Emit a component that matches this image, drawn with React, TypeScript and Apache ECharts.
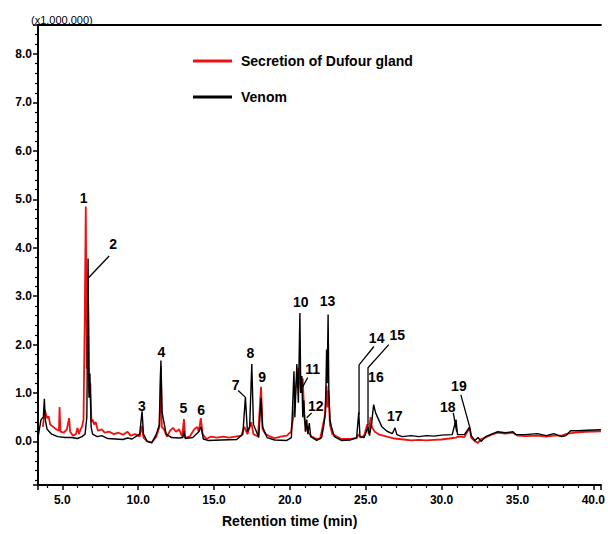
import React, { useEffect, useRef } from 'react';
import * as echarts from 'echarts';

// Retention time (min), abundance (x1,000,000)
const dufourTrace: [number, number][] = [
  [3.72, 0.3], [3.85, 0.65], [4.0, 0.48], [4.1, 0.52], [4.2, 0.35], [4.4, 0.3], [4.6, 0.25], [4.78, 0.22],
  [4.82, 0.71], [4.88, 0.2], [5.1, 0.18], [5.3, 0.25], [5.45, 0.48], [5.52, 0.2], [5.7, 0.12], [5.9, 0.15],
  [6.0, 0.28], [6.1, 0.15], [6.2, 0.25], [6.3, 0.3], [6.4, 0.45], [6.48, 2.5], [6.55, 4.85], [6.62, 1.5],
  [6.7, 3.0], [6.78, 1.0], [6.85, 1.2], [6.92, 0.4], [7.0, 0.45], [7.1, 0.35], [7.2, 0.4], [7.35, 0.22],
  [7.6, 0.25], [7.8, 0.18], [8.1, 0.2], [8.4, 0.15], [8.7, 0.18], [9.0, 0.14], [9.3, 0.2], [9.5, 0.12],
  [9.8, 0.15], [10.1, 0.1], [10.25, 0.32], [10.35, 0.08], [10.6, 0.0], [10.9, -0.02], [11.2, 0.1], [11.4, 0.3],
  [11.5, 1.55], [11.56, 0.3], [11.7, 0.25], [11.9, 0.1], [12.1, 0.22], [12.3, 0.28], [12.5, 0.2], [12.7, 0.25],
  [12.9, 0.1], [13.02, 0.46], [13.1, 0.08], [13.4, 0.1], [13.7, 0.25], [13.9, 0.3], [14.0, 0.2], [14.13, 0.48],
  [14.25, 0.15], [14.5, 0.05], [14.8, 0.1], [15.2, 0.08], [15.6, 0.1], [16.0, 0.08], [16.4, 0.1], [16.8, 0.12],
  [17.0, 0.3], [17.2, 0.15], [17.45, 0.4], [17.6, 0.15], [17.9, 0.1], [18.1, 1.13], [18.2, 0.25], [18.4, 0.15],
  [18.7, 0.1], [19.0, 0.07], [19.4, 0.1], [19.8, 0.12], [20.08, 0.2], [20.27, 0.6], [20.38, 1.1], [20.57, 1.52],
  [20.72, 1.0], [20.85, 1.3], [20.95, 0.5], [21.05, 0.3], [21.18, 0.2], [21.44, 0.1], [21.77, 0.05], [22.0, 0.06],
  [22.29, 0.5], [22.42, 1.15], [22.48, 0.7], [22.55, 1.05], [22.64, 0.35], [22.8, 0.15], [23.39, 0.05], [24.0, 0.05],
  [24.4, 0.07], [24.54, 0.15], [24.65, 0.08], [24.9, 0.12], [25.1, 0.35], [25.2, 0.15], [25.32, 0.5], [25.4, 0.3],
  [25.6, 0.2], [25.9, 0.14], [26.4, 0.1], [26.9, 0.06], [27.5, 0.04], [28.0, 0.02], [28.5, 0.03], [29.0, 0.02],
  [29.5, 0.03], [30.0, 0.04], [30.5, 0.06], [30.95, 0.08], [31.1, 0.1], [31.5, 0.09], [31.85, 0.28], [31.95, 0.08],
  [32.2, 0.0], [32.4, -0.03], [32.6, 0.05], [32.9, 0.08], [33.3, 0.14], [33.7, 0.18], [34.2, 0.16], [34.7, 0.18],
  [35.0, 0.12], [35.5, 0.11], [36.3, 0.12], [36.9, 0.1], [37.4, 0.12], [37.9, 0.12], [38.3, 0.16], [38.8, 0.18],
  [39.5, 0.2], [40.5, 0.21],
];

const venomTrace: [number, number][] = [
  [3.42, 0.12], [3.6, 0.45], [3.75, 0.5], [3.82, 0.88], [3.88, 0.45], [4.0, 0.25], [4.3, 0.15], [4.7, 0.1],
  [5.2, 0.08], [5.6, 0.08], [6.0, 0.06], [6.3, 0.1], [6.5, 0.15], [6.62, 0.5], [6.7, 3.78], [6.76, 0.9],
  [6.82, 1.4], [6.9, 0.3], [7.0, 0.15], [7.3, 0.1], [7.6, 0.12], [8.0, 0.06], [8.5, 0.05], [9.0, 0.04],
  [9.3, 0.07], [9.6, 0.05], [10.1, 0.15], [10.26, 0.62], [10.35, 0.15], [10.6, 0.0], [10.9, -0.03], [11.2, 0.15],
  [11.4, 0.35], [11.5, 1.67], [11.58, 0.6], [11.7, 0.4], [11.85, 0.15], [12.2, 0.08], [12.7, 0.07], [12.95, 0.08],
  [13.02, 0.22], [13.1, 0.06], [13.6, 0.08], [14.0, 0.2], [14.15, 0.3], [14.3, 0.05], [14.6, 0.02], [15.5, 0.03],
  [16.5, 0.04], [16.9, 0.15], [17.07, 0.92], [17.2, 0.2], [17.35, 0.3], [17.49, 1.6], [17.6, 0.35], [17.8, 0.2],
  [17.95, 0.08], [18.1, 0.9], [18.2, 0.3], [18.5, 0.08], [19.0, 0.03], [19.8, 0.02], [20.1, 0.08], [20.27, 1.45],
  [20.33, 0.5], [20.46, 1.6], [20.56, 0.8], [20.66, 2.65], [20.72, 1.0], [20.79, 1.35], [20.85, 0.5], [20.92, 0.85],
  [21.02, 0.2], [21.11, 0.45], [21.18, 0.15], [21.28, 0.38], [21.37, 0.1], [21.77, 0.02], [22.09, 0.08], [22.22, 0.3],
  [22.35, 0.6], [22.42, 1.9], [22.46, 1.2], [22.52, 2.62], [22.57, 1.0], [22.64, 0.45], [22.74, 0.3], [22.93, 0.1],
  [23.39, 0.02], [24.0, 0.03], [24.4, 0.08], [24.54, 0.6], [24.62, 0.1], [24.9, 0.08], [25.15, 0.3], [25.25, 0.12],
  [25.4, 0.4], [25.52, 0.76], [25.65, 0.59], [25.85, 0.45], [26.05, 0.31], [26.4, 0.21], [26.75, 0.16], [26.93, 0.28],
  [27.05, 0.14], [27.4, 0.1], [28.0, 0.12], [28.5, 0.1], [29.0, 0.12], [29.5, 0.11], [30.0, 0.13], [30.7, 0.14],
  [30.95, 0.45], [31.05, 0.14], [31.5, 0.14], [31.85, 0.3], [31.95, 0.12], [32.2, 0.02], [32.4, 0.08], [32.6, 0.0],
  [32.9, 0.1], [33.3, 0.15], [33.7, 0.2], [34.2, 0.18], [34.7, 0.2], [34.9, 0.14], [35.5, 0.14], [36.3, 0.16],
  [36.9, 0.12], [37.4, 0.16], [37.9, 0.1], [38.2, 0.12], [38.5, 0.22], [39.0, 0.22], [39.6, 0.23], [40.5, 0.24],
];

const seriesNames = ['Secretion of Dufour gland', 'Venom'];

const peakNames = ['1', '2', '3', '4', '5', '6', '7', '8', '9', '10', '11', '12', '13', '14', '15', '16', '17', '18', '19'];
const peakLabelX = [6.4, 8.35, 10.24, 11.54, 12.98, 14.15, 16.43, 17.4, 18.18, 20.72, 21.5, 21.7, 22.48, 25.72, 27.08, 25.67, 26.91, 30.4, 31.14];
const peakLabelY = [5.03, 4.08, 0.73, 1.85, 0.68, 0.65, 1.17, 1.83, 1.34, 2.87, 1.5, 0.74, 2.89, 2.14, 2.2, 1.34, 0.52, 0.71, 1.15];

const leaderLines: [number, number][][] = [
  [[8.09, 3.83], [6.73, 3.38]],
  [[16.59, 1.05], [17.04, 0.92]],
  [[21.18, 1.32], [20.85, 1.13]],
  [[21.44, 0.59], [21.11, 0.49]],
  [[25.54, 1.96], [24.56, 1.58], [24.56, 0.55]],
  [[26.52, 2.0], [25.15, 1.52], [25.15, 0.33]],
  [[30.77, 0.59], [30.99, 0.2]],
  [[31.27, 0.96], [31.85, 0.3]],
];

const X_MIN = 3.4;
const X_MAX = 40.5;
const Y_MIN = -0.9;
const Y_MAX = 8.6;

const FONT = '"Liberation Sans", Arial, sans-serif';

export default function App() {
  const ref = useRef<HTMLDivElement>(null);

  useEffect(() => {
    if (!ref.current) return;
    const chart = echarts.init(ref.current, null, { renderer: 'svg' });

    const isMultiple = (v: number, step: number) => Math.abs(v / step - Math.round(v / step)) < 1e-6;

    const axisCommon = {
      axisLine: { show: true, onZero: false, lineStyle: { color: '#000', width: 2 } },
      axisTick: { show: true, inside: false, length: 5, lineStyle: { color: '#000', width: 1.5 } },
      minorTick: { show: true, splitNumber: 5, length: 3, lineStyle: { color: '#000', width: 1.2 } },
      splitLine: { show: false },
      minorSplitLine: { show: false },
    };

    const option: any = {
      animation: false,
      backgroundColor: '#fff',
      textStyle: { fontFamily: FONT },
      grid: { left: 38, right: 0, top: 25, bottom: 49, containLabel: false },
      legend: {
        data: seriesNames,
        orient: 'vertical',
        left: 193,
        top: 54,
        padding: 0,
        icon: 'rect',
        itemWidth: 39,
        itemHeight: 3,
        itemGap: 22,
        selectedMode: false,
        textStyle: { fontFamily: FONT, fontSize: 14, fontWeight: 'bold', color: '#000', padding: [0, 0, 0, 4] },
      },
      xAxis: [
        {
          type: 'value',
          min: X_MIN,
          max: X_MAX,
          splitNumber: 8,
          position: 'bottom',
          ...axisCommon,
          axisLabel: {
            margin: 9,
            fontFamily: FONT,
            fontSize: 12,
            fontWeight: 'bold',
            color: '#000',
            formatter: (v: number) => (isMultiple(v, 5) ? v.toFixed(1) : ''),
          },
        },
        {
          type: 'value',
          min: X_MIN,
          max: X_MAX,
          position: 'top',
          axisLine: { show: true, onZero: false, lineStyle: { color: '#000', width: 2 } },
          axisTick: { show: false },
          axisLabel: { show: false },
          splitLine: { show: false },
        },
      ],
      yAxis: {
        type: 'value',
        min: Y_MIN,
        max: Y_MAX,
        splitNumber: 10,
        ...axisCommon,
        axisLabel: {
          margin: 6,
          fontFamily: FONT,
          fontSize: 12,
          fontWeight: 'bold',
          color: '#000',
          formatter: (v: number) => (isMultiple(v, 1) ? v.toFixed(1) : ''),
        },
      },
      graphic: [
        {
          type: 'text',
          left: 31,
          top: 14,
          style: { text: '(x1,000,000)', fontFamily: FONT, fontSize: 11, fill: '#000' },
        },
        {
          type: 'text',
          left: 222,
          top: 514,
          style: { text: 'Retention time (min)', fontFamily: FONT, fontSize: 14, fontWeight: 'bold', fill: '#000' },
        },
      ],
      series: [
        {
          name: seriesNames[0],
          type: 'line',
          data: dufourTrace,
          showSymbol: false,
          symbol: 'none',
          color: '#ee1111',
          lineStyle: { color: '#ee1111', width: 1.8 },
          z: 2,
        },
        {
          name: seriesNames[1],
          type: 'line',
          data: venomTrace,
          showSymbol: false,
          symbol: 'none',
          color: '#000',
          lineStyle: { color: '#000', width: 1.4 },
          z: 3,
        },
        {
          name: 'leaders',
          type: 'lines',
          coordinateSystem: 'cartesian2d',
          polyline: true,
          silent: true,
          data: leaderLines.map((c) => ({ coords: c })),
          lineStyle: { color: '#000', width: 1.3, opacity: 1 },
          z: 4,
        },
        {
          name: 'peaks',
          type: 'scatter',
          silent: true,
          symbol: 'circle',
          symbolSize: 1,
          itemStyle: { color: 'rgba(0,0,0,0)' },
          data: peakNames.map((n, i) => [peakLabelX[i], peakLabelY[i], n]),
          label: {
            show: true,
            position: 'inside',
            formatter: (p: any) => p.data[2],
            fontFamily: FONT,
            fontSize: 14,
            fontWeight: 'bold',
            color: '#000',
            textBorderWidth: 0,
            opacity: 1,
          },
          z: 5,
        },
      ],
    };

    chart.setOption(option);
    return () => chart.dispose();
  }, []);

  return (
    <div
      ref={ref}
      style={{ position: 'absolute', left: 0, top: 0, width: 608, height: 534, background: '#fff' }}
    />
  );
}
